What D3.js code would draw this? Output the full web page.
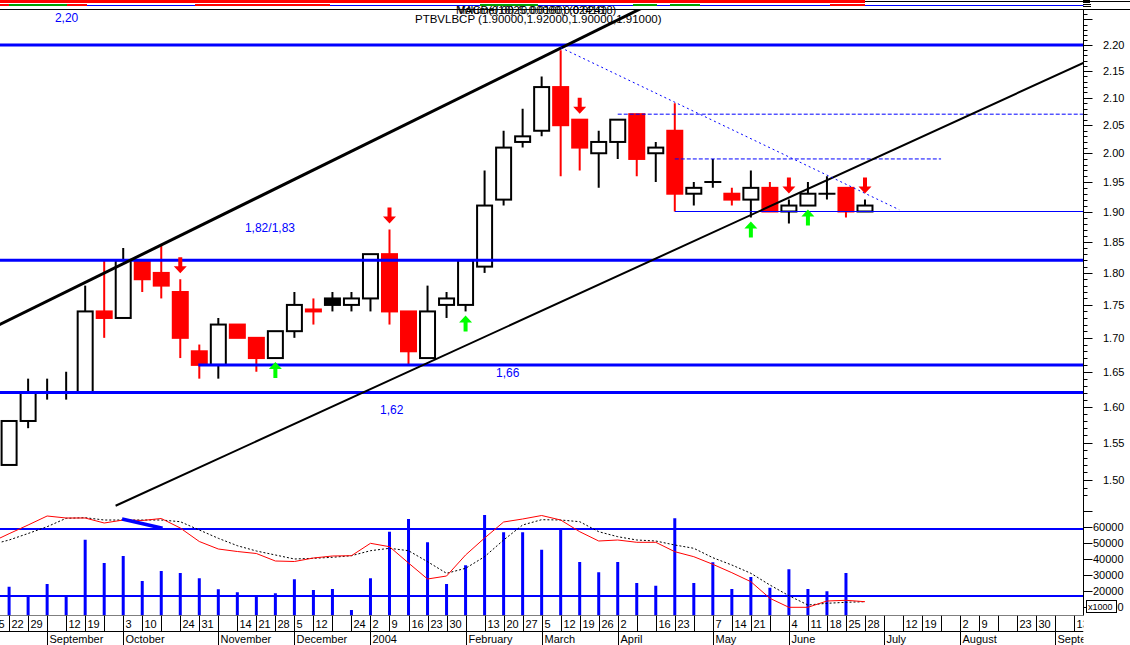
<!DOCTYPE html>
<html><head><meta charset="utf-8">
<script src="https://cdn.jsdelivr.net/npm/d3@7"></script>
<style>
body{margin:0;background:#fff;}
svg{display:block;font-family:"Liberation Sans",Arial,sans-serif;}
</style>
</head><body>
<svg id="c" width="1130" height="645"></svg>
<script>
// ---------- DATA ----------
// weekly candles, index 0 = week of 22 Aug 2003
const open  = [1.52,1.58,1.62,1.62,1.62,1.74,1.73,1.82,1.80,1.77,1.68,1.66,1.72,1.70,1.67,1.71,1.743,1.76,1.75,1.76,1.83,1.74,1.67,1.75,1.75,1.81,1.92,2.02,2.04,2.12,2.06,2.00,2.02,2.07,2.00,2.04,1.93,1.95,1.93,1.92,1.94,1.90,1.91,1.93,1.94,1.90];
const high  = [1.58,1.64,1.64,1.65,1.78,1.82,1.84,1.82,1.845,1.79,1.69,1.73,1.72,1.70,1.71,1.77,1.76,1.77,1.77,1.83,1.87,1.74,1.78,1.77,1.82,1.97,2.04,2.08,2.14,2.19,2.06,2.04,2.06,2.07,2.02,2.09,1.95,1.99,1.94,1.97,1.95,1.92,1.95,1.96,1.94,1.92];
const low   = [1.52,1.57,1.61,1.61,1.62,1.70,1.73,1.77,1.76,1.67,1.64,1.64,1.70,1.65,1.67,1.70,1.72,1.74,1.74,1.74,1.72,1.66,1.67,1.73,1.74,1.80,1.91,2.01,2.03,1.96,1.97,1.94,1.99,1.96,1.95,1.90,1.91,1.94,1.91,1.89,1.90,1.88,1.91,1.92,1.89,1.90];
const close = [1.58,1.62,1.62,1.62,1.74,1.73,1.82,1.79,1.78,1.70,1.66,1.72,1.70,1.67,1.71,1.75,1.74,1.75,1.76,1.83,1.74,1.68,1.74,1.76,1.82,1.91,2.01,2.03,2.12,2.05,2.01,2.02,2.06,1.99,2.01,1.93,1.94,1.95,1.92,1.94,1.90,1.91,1.93,1.93,1.90,1.91];
const volume = [22700,17500,24400,17500,52100,37500,41900,26300,32500,31300,27900,21100,19200,17500,18600,27300,20600,21300,8100,27900,57100,65000,50400,24400,36100,67500,56700,56700,45800,58600,38100,31700,38100,25000,23300,65400,25000,37900,21300,28700,22100,33600,21300,19800,31300];
// oscillator lines, index -1 .. 45
const oscRed   = [77.3,86.3,95,104,102,102,97,100,99.5,101.5,92,78.5,71,68.5,66.5,59,58.5,62,64,64.3,76.7,73.3,57,41,44,65,82,98,101,104.5,100,88.3,79,80,77.7,77.7,68.3,63.3,55.7,47.3,38.3,21.7,12.7,12.7,19,19.7,18.3];
const oscBlack = [75,80,86.5,93.3,101.7,102.3,100,100,100,100,98.3,90,81.7,74.3,69,65,61,61.7,62.7,64.3,69.3,71.7,69.3,58.3,46.7,51.7,63.3,80,95,100.3,100,98.3,88.3,83.3,80,79,75,71.7,62.3,55,46.7,35,24.3,15,16.7,17.7,18.3];
const oscLevels = [91, 24];
const oscDivergence = [[5.94,101],[8.07,91.7]];
// axis labels, index -1 .. 56
const weekLabels = ["15","22","29","","12","19","","3","10","","24","31","","14","21","28","5","12","","24","2","9","16","23","30","","13","20","27","5","12","19","26","2","","16","23","","7","14","21","","4","11","18","25","28","","12","19","","2","9","","23","30","","13"];
const monthNames = ["September","October","November","December","2004","February","March","April","May","June","July","August","September"];
const monthStart = [2,6,11,15,19,24,28,32,37,41,46,50,55];
const priceTicks = [1.50,1.55,1.60,1.65,1.70,1.75,1.80,1.85,1.90,1.95,2.00,2.05,2.10,2.15,2.20];
const volumeTicks = [10000,20000,30000,40000,50000,60000];
// drawn studies
const supportLevels = [[2.20,-1],[1.82,-1],[1.66,9.95],[1.62,-1]];
const dashedLevels = [[2.07,32,57],[1.99,35,49]];
const thinLevels = [[1.90,35,57]];
const upperChannel = [[0,1.727],[29,2.194]];
const lowerChannel = [[5.6,1.4664],[40,1.9087]];
const dottedTrend = [[29,2.195],[46.8,1.903]];
const downArrows = [9,20,30,41,45];
const upArrows = [14,24,39,42];
const notes = [["2,20",2.41,2.245],["1,82/1,83",12.4,1.866],["1,66",25.6,1.642],["1,62",19.5,1.590]];
const titleText = "PTBVLBCP (1.90000,1.92000,1.90000,1.91000)";

// ---------- SCALES ----------
const svg = d3.select('#c');
const RIGHT = 1083.5, TOP = 9.5, BOT = 615.5;
const X = d3.scaleLinear().domain([0,56]).range([9.1,1074.2]);
const Y = d3.scaleLog().domain([1.5,2.2]).range([480,45]);
const V = d3.scaleLinear().domain([0,60000]).range([623,527]);
const O = d3.scaleLinear().domain([0,120]).range([620,500]);
const BLUE = '#0000ff', RED = '#ff0000', GREEN = '#00ff00';

const defs = svg.append('defs');
defs.append('clipPath').attr('id','plot').append('rect').attr('x',0).attr('y',TOP).attr('width',RIGHT).attr('height',BOT-TOP);
defs.append('clipPath').attr('id','axisclip').append('rect').attr('x',0).attr('y',BOT).attr('width',RIGHT).attr('height',40);

// ---------- HEADER ----------
const hdr = svg.append('g');
hdr.append('line').attr('x1',0).attr('x2',1130).attr('y1',1.5).attr('y2',1.5).attr('stroke','#000');
hdr.append('rect').attr('x',0).attr('y',0).attr('width',865).attr('height',3).attr('fill',RED);
hdr.append('line').attr('x1',87).attr('x2',RIGHT).attr('y1',5.5).attr('y2',5.5).attr('stroke',BLUE);
[[0,9,RED],[9,67,'#00a000'],[67,87,RED],[195,330,RED],[480,538,'#00a000'],[633,657,'#00a000'],[670,700,'#00a000'],[830,865,RED]].forEach(s=>{
  hdr.append('rect').attr('x',s[0]).attr('y',4).attr('width',s[1]-s[0]).attr('height',2).attr('fill',s[2]);
});
hdr.append('line').attr('x1',0).attr('x2',1130).attr('y1',TOP).attr('y2',TOP).attr('stroke','#000');
hdr.append('rect').attr('x',1083).attr('y',0).attr('width',7).attr('height',3).attr('fill','#000');
[4.5,6.5].forEach(yy=>hdr.append('line').attr('x1',1083).attr('x2',1091).attr('y1',yy).attr('y2',yy).attr('stroke','#000'));

hdr.append('text').attr('x',456).attr('y',14).attr('font-size',11).attr('fill','#000').text('MACD(0.0025,0.0160) (0.02418)');
hdr.append('text').attr('x',458).attr('y',14).attr('font-size',11).attr('fill','#000').text('Volume(10) (0.00000,0.02416)');
hdr.append('text').attr('x',415).attr('y',22.5).attr('font-size',11.5).attr('fill','#000').text(titleText);

// ---------- PLOT ----------
const plot = svg.append('g').attr('clip-path','url(#plot)');

// volume bars
plot.append('g').selectAll('line').data(volume).join('line')
  .attr('x1',(d,i)=>X(i)).attr('x2',(d,i)=>X(i))
  .attr('y1',d=>V(d)).attr('y2',BOT)
  .attr('stroke',BLUE).attr('stroke-width',3);

// oscillator
oscLevels.forEach(l=>plot.append('line').attr('x1',0).attr('x2',RIGHT).attr('y1',O(l)).attr('y2',O(l)).attr('stroke',BLUE).attr('stroke-width',2));
const oline = d3.line().x((d,i)=>X(i-1)).y(d=>O(d));
plot.append('path').attr('d',oline(oscBlack)).attr('fill','none').attr('stroke','#000').attr('stroke-width',1).attr('stroke-dasharray','2,2');
plot.append('path').attr('d',oline(oscRed)).attr('fill','none').attr('stroke',RED).attr('stroke-width',1);
plot.append('line').attr('x1',X(oscDivergence[0][0])).attr('y1',O(oscDivergence[0][1]))
  .attr('x2',X(oscDivergence[1][0])).attr('y2',O(oscDivergence[1][1]))
  .attr('stroke',BLUE).attr('stroke-width',3.5);

// candles
const cg = plot.append('g');
open.forEach((o,i)=>{
  const c = close[i], cx = X(i);
  const kind = c>=o ? 'white' : (i>0 && c>=close[i-1] ? 'black' : 'red');
  const col = kind==='red' ? RED : '#000';
  cg.append('line').attr('x1',cx).attr('x2',cx).attr('y1',Y(high[i])).attr('y2',Y(low[i]))
    .attr('stroke',col).attr('stroke-width',2);
  const yt = Y(Math.max(o,c)), yb = Y(Math.min(o,c));
  if (yb-yt < 1.5) {
    cg.append('line').attr('x1',cx-8.5).attr('x2',cx+8.5).attr('y1',(yt+yb)/2).attr('y2',(yt+yb)/2)
      .attr('stroke',col).attr('stroke-width',2);
  } else if (kind==='white') {
    cg.append('rect').attr('x',cx-7.5).attr('y',yt).attr('width',15).attr('height',yb-yt)
      .attr('fill','#fff').attr('stroke','#000').attr('stroke-width',2);
  } else {
    cg.append('rect').attr('x',cx-8.5).attr('y',yt-1).attr('width',17).attr('height',yb-yt+2)
      .attr('fill',col);
  }
});

// horizontal levels
supportLevels.forEach(s=>plot.append('line').attr('x1',Math.max(0,X(s[1]))).attr('x2',RIGHT)
  .attr('y1',Y(s[0])).attr('y2',Y(s[0])).attr('stroke',BLUE).attr('stroke-width',3));
dashedLevels.forEach(s=>plot.append('line').attr('x1',X(s[1])).attr('x2',Math.min(RIGHT,X(s[2])))
  .attr('y1',Y(s[0])).attr('y2',Y(s[0])).attr('stroke',BLUE).attr('stroke-width',1).attr('stroke-dasharray','4,2'));
thinLevels.forEach(s=>plot.append('line').attr('x1',X(s[1])).attr('x2',Math.min(RIGHT,X(s[2])))
  .attr('y1',Y(s[0])).attr('y2',Y(s[0])).attr('stroke',BLUE).attr('stroke-width',1));

// trend lines (straight in log-price)
function trend(pts,i0,i1){
  const [a,b]=pts, k=(Math.log(b[1])-Math.log(a[1]))/(b[0]-a[0]);
  const f=i=>Math.exp(Math.log(a[1])+k*(i-a[0]));
  return {x1:X(i0),y1:Y(f(i0)),x2:X(i1),y2:Y(f(i1))};
}
function drawTrend(t,w,col,dash){
  const l=plot.append('line').attr('x1',t.x1).attr('y1',t.y1).attr('x2',t.x2).attr('y2',t.y2)
    .attr('stroke',col).attr('stroke-width',w);
  if(dash) l.attr('stroke-dasharray',dash);
}
drawTrend(trend(upperChannel,-1,40),3,'#000');
drawTrend(trend(lowerChannel,lowerChannel[0][0],57),2,'#000');
drawTrend(trend(dottedTrend,dottedTrend[0][0],dottedTrend[1][0]),1,BLUE,'2,3');

// signal arrows
downArrows.forEach(i=>{
  const cx=X(i), t=Y(high[i])-6;
  plot.append('path').attr('d',`M${cx-2},${t-16}h4v9h4.5L${cx},${t}L${cx-6.5},${t-7}h4.5Z`).attr('fill',RED);
});
upArrows.forEach(i=>{
  const cx=X(i), t=Y(low[i])+4;
  plot.append('path').attr('d',`M${cx-2},${t+16}h4v-9h4.5L${cx},${t}L${cx-6.5},${t+7}h4.5Z`).attr('fill',GREEN);
});

// notes
notes.forEach(n=>svg.append('text').attr('x',X(n[1])).attr('y',Y(n[2])).attr('font-size',12).attr('fill',BLUE).text(n[0]));

// ---------- RIGHT AXIS ----------
const ax = svg.append('g');
ax.append('line').attr('x1',RIGHT).attr('x2',RIGHT).attr('y1',TOP).attr('y2',BOT).attr('stroke','#000');
for(let k=146;k<=227;k++){
  const p=k/100, yy=Math.round(Y(p))+0.5;
  if(yy<TOP+2||yy>500) continue;
  const major = k%5===0;
  ax.append('line').attr('x1',RIGHT).attr('x2',RIGHT+(major?9:4)).attr('y1',yy).attr('y2',yy).attr('stroke','#000');
}
priceTicks.forEach(p=>ax.append('text').attr('x',1103).attr('y',Y(p)+4).attr('font-size',11).text(p.toFixed(2)));
[10000,20000,30000,40000,50000,60000,70000].forEach(v=>{
  const yy=Math.round(V(v))+0.5;
  ax.append('line').attr('x1',RIGHT).attr('x2',RIGHT+9).attr('y1',yy).attr('y2',yy).attr('stroke','#000');
});
volumeTicks.forEach(v=>ax.append('text').attr('x',1093).attr('y',V(v)+4).attr('font-size',11).text(String(v)));
ax.append('rect').attr('x',1086.5).attr('y',600.5).attr('width',30).attr('height',12).attr('fill','#fff').attr('stroke','#000');
ax.append('text').attr('x',1088).attr('y',610).attr('font-size',9).text('x1000');

// ---------- BOTTOM AXIS ----------
const bx = svg.append('g').attr('clip-path','url(#axisclip)');
bx.append('line').attr('x1',0).attr('x2',RIGHT).attr('y1',BOT).attr('y2',BOT).attr('stroke','#000');
bx.append('line').attr('x1',0).attr('x2',RIGHT).attr('y1',631.5).attr('y2',631.5).attr('stroke','#000');
weekLabels.forEach((lab,j)=>{
  const i=j-1, xx=Math.round(X(i))+0.5;
  bx.append('line').attr('x1',xx).attr('x2',xx).attr('y1',BOT).attr('y2',631.5).attr('stroke','#000');
  if(lab) bx.append('text').attr('x',xx+2).attr('y',628).attr('font-size',11).text(lab);
});
monthNames.forEach((m,k)=>{
  const xx=Math.round(X(monthStart[k]))+0.5;
  bx.append('line').attr('x1',xx).attr('x2',xx).attr('y1',631.5).attr('y2',645).attr('stroke','#000');
  bx.append('text').attr('x',xx+2).attr('y',643).attr('font-size',11).text(m);
});
</script>
</body></html>
